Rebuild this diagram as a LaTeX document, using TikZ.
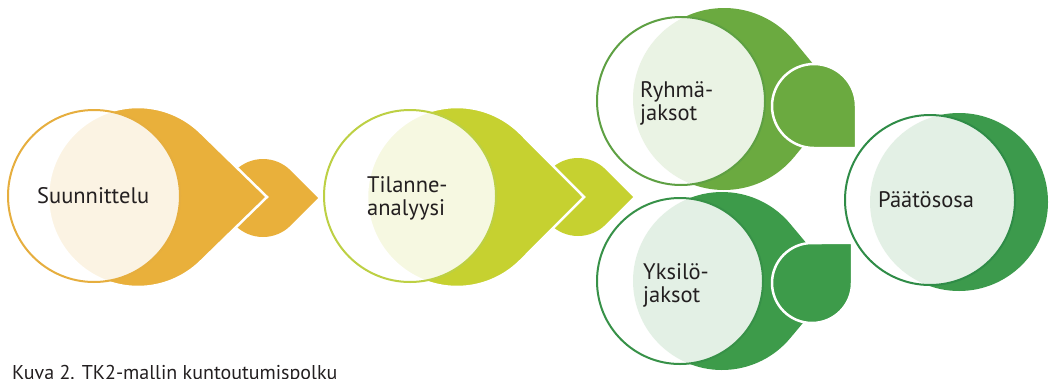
\documentclass[tikz,border=0pt]{standalone}
\usepackage{fontspec}
\setmainfont{PT Sans}
\usetikzlibrary{calc}
\definecolor{orA}{HTML}{E9B03B}
\definecolor{orL}{HTML}{E6AE3E}
\definecolor{ygA}{HTML}{C6D130}
\definecolor{ygL}{HTML}{BDD044}
\definecolor{gA}{HTML}{6BAA40}
\definecolor{gL}{HTML}{5EA043}
\definecolor{dA}{HTML}{3D9B4A}
\definecolor{dL}{HTML}{379148}
\definecolor{eA}{HTML}{3C9A4C}
\definecolor{eL}{HTML}{2F8C47}
\definecolor{txt}{HTML}{231F20}
\tikzset{
  frontcirc/.style={circle, inner sep=0pt, fill=white, fill opacity=0.86, line width=2pt},
  lbl/.style={anchor=base west, inner sep=0pt, text=txt, align=left,
    font=\fontsize{22.5}{23}\selectfont},
  captext/.style={anchor=base west, inner sep=0pt, text=txt, font=\fontsize{20}{20}\selectfont},
  whiteedge/.style={draw=white, line width=2.5pt, line join=miter}
}
\begin{document}
\begin{tikzpicture}[x=1pt,y=-1pt]
\useasboundingbox (0,0) rectangle (1049,378);
% centres of the back shapes
\coordinate (b1) at (138,197);
\coordinate (b2) at (457,197);
\coordinate (b3) at (724,99);
\coordinate (b4) at (722,281);
\coordinate (b5) at (959,202);
\coordinate (s1) at (263,198);
\coordinate (s2) at (578,197);
\coordinate (s3) at (814,106);
\coordinate (s4) at (812,283);
% small arrows behind
\fill[orA] ($(s1)+(0:55)$) -- ($(s1)+(45:39)$) arc[start angle=45,end angle=315,radius=39] -- cycle;
\fill[ygA] ($(s2)+(0:55)$) -- ($(s2)+(45:39)$) arc[start angle=45,end angle=315,radius=39] -- cycle;
% big teardrops
\filldraw[fill=orA, whiteedge] ($(b1)+(0:129)$) -- ($(b1)+(45:90)$) arc[start angle=45,end angle=315,radius=90] -- cycle;
\filldraw[fill=ygA, whiteedge] ($(b2)+(0:127)$) -- ($(b2)+(45:90)$) arc[start angle=45,end angle=315,radius=90] -- cycle;
\fill[gA] ($(b3)+(0:118)$) -- ($(b3)+(40:91)$) arc[start angle=40,end angle=320,radius=91] -- cycle;
\fill[dA] ($(b4)+(0:116)$) -- ($(b4)+(40:89)$) arc[start angle=40,end angle=320,radius=89] -- cycle;
\fill[eA] (b5) circle[radius=89];
% small arrows in front
\filldraw[fill=gA, whiteedge] ($(s3)+(45:59.4)$) -- ($(s3)+(90:42)$) arc[start angle=90,end angle=360,radius=42] -- cycle;
\filldraw[fill=dA, whiteedge] ($(s4)+(-45:56.6)$) -- ($(s4)+(0:40)$) arc[start angle=0,end angle=270,radius=40] -- cycle;
% front circles
\node[frontcirc, draw=orL, minimum size=172pt] (w1) at (94,196) {};
\node[frontcirc, draw=ygL, minimum size=172pt] (w2) at (410,196) {};
\node[frontcirc, draw=gL, minimum size=168pt] (w3) at (681,101) {};
\node[frontcirc, draw=dL, minimum size=166pt] (w4) at (680,281) {};
\node[frontcirc, draw=eL, minimum size=170pt] (w5) at (930,200) {};
% labels (base anchor = baseline of the last line)
\node[lbl] (t1) at (37,203) {Suunnittelu};
\node[lbl] (t2) at (367,215) {Tilanne-\\analyysi};
\node[lbl] (t3) at (640,120) {Ryhmä-\\jaksot};
\node[lbl] (t4) at (643,302) {Yksilö-\\jaksot};
\node[lbl] (t5) at (878,207) {Päätösosa};
\node[captext] (c) at (12,379) {Kuva 2. TK2-mallin kuntoutumispolku};
\end{tikzpicture}
\end{document}
